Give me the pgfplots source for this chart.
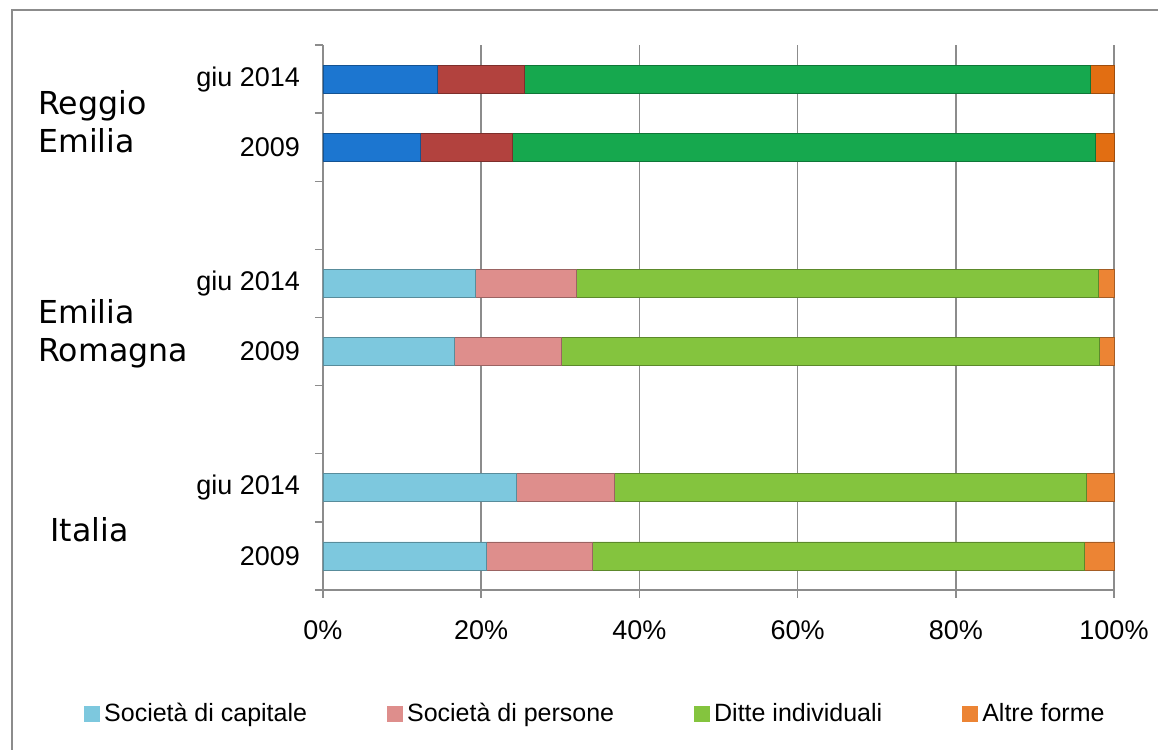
\documentclass[border=0pt]{standalone}
\usepackage{fontspec}
\setmainfont{Liberation Sans}
\newfontfamily\verdana{DejaVu Sans}
\usepackage{pgfplots}
\usepackage{pgfplotstable}
\pgfplotsset{compat=1.18}

\definecolor{capL}{RGB}{125,200,222}
\definecolor{perL}{RGB}{222,142,140}
\definecolor{ditL}{RGB}{132,196,62}
\definecolor{altL}{RGB}{236,132,52}
\definecolor{capD}{RGB}{28,118,208}
\definecolor{perD}{RGB}{178,66,62}
\definecolor{ditD}{RGB}{22,168,78}
\definecolor{altD}{RGB}{226,110,18}
\definecolor{axgray}{RGB}{140,140,140}

% y: 0 Italia 2009, 1 Italia giu 2014, 3/4 Emilia Romagna, 6/7 Reggio Emilia
% D columns: Reggio Emilia (dark colours), L columns: the others
\pgfplotstableread{
y capD perD ditD altD capL perL ditL altL
0 0 0 0 0 20.7 13.4 62.1 3.8
1 0 0 0 0 24.4 12.4 59.7 3.5
3 0 0 0 0 16.6 13.6 67.9 1.9
4 0 0 0 0 19.3 12.7 66.0 2.0
6 12.3 11.7 73.7 2.3 0 0 0 0
7 14.5 11.0 71.5 3.0 0 0 0 0
}\shares

\pgfplotsset{bevel/.style={fill=#1, draw=#1!70!black, line width=0.4pt}}

\begin{document}
\begin{tikzpicture}
\useasboundingbox (0,0) rectangle (579pt,375pt);
\draw[axgray, line width=0.8pt] (6pt,-10pt) rectangle (600pt,370pt);
\begin{axis}[
    at={(161.5pt,80pt)}, anchor=south west,
    scale only axis, width=395.5pt, height=272.5pt,
    xbar stacked, bar width=14pt,
    xmin=0, xmax=100, ymin=-0.5, ymax=7.5,
    axis lines*=left,
    axis line style={axgray, line width=0.7pt},
    tick align=outside, major tick length=4pt,
    tick style={axgray, line width=0.7pt},
    xtick={0,20,...,100},
    xticklabels={0\%,20\%,40\%,60\%,80\%,100\%},
    xmajorgrids, grid style={axgray, line width=0.7pt},
    ytick={-0.5,0.5,...,7.5}, yticklabels={},
    extra y ticks={0,1,3,4,6,7},
    extra y tick labels={2009,giu 2014,2009,giu 2014,2009,giu 2014},
    extra y tick style={major tick length=0pt},
    ticklabel style={font=\fontsize{13.5}{16}\selectfont, text=black},
    yticklabel style={xshift=-8pt},
    xticklabel style={yshift=-8pt},
    legend style={draw=none, fill=none, at={(-0.31,-0.228)}, anchor=west,
        legend columns=4, font=\fontsize{12.5}{15}\selectfont,
        /tikz/every even column/.append style={column sep=38pt}},
    legend image code/.code={\draw[#1, draw=none] (0pt,-4pt) rectangle (8pt,4pt);},
    clip=false,
]
\addplot[forget plot, bevel=capD] table[x=capD,y=y]{\shares};
\addplot[forget plot, bevel=perD] table[x=perD,y=y]{\shares};
\addplot[forget plot, bevel=ditD] table[x=ditD,y=y]{\shares};
\addplot[forget plot, bevel=altD] table[x=altD,y=y]{\shares};
\addplot[bevel=capL] table[x=capL,y=y]{\shares};
\addplot[bevel=perL] table[x=perL,y=y]{\shares};
\addplot[bevel=ditL] table[x=ditL,y=y]{\shares};
\addplot[bevel=altL] table[x=altL,y=y]{\shares};
\legend{Società di capitale, Società di persone, Ditte individuali, Altre forme}
\end{axis}
\begin{scope}[every node/.style={inner sep=0pt, anchor=west, align=left,
    font=\verdana\fontsize{15.8}{19}\selectfont}]
\node at (19pt,314pt) {Reggio\\Emilia};
\node at (19pt,208pt) {Emilia\\Romagna};
\node at (25pt,110pt) {Italia};
\end{scope}
\end{tikzpicture}
\end{document}
